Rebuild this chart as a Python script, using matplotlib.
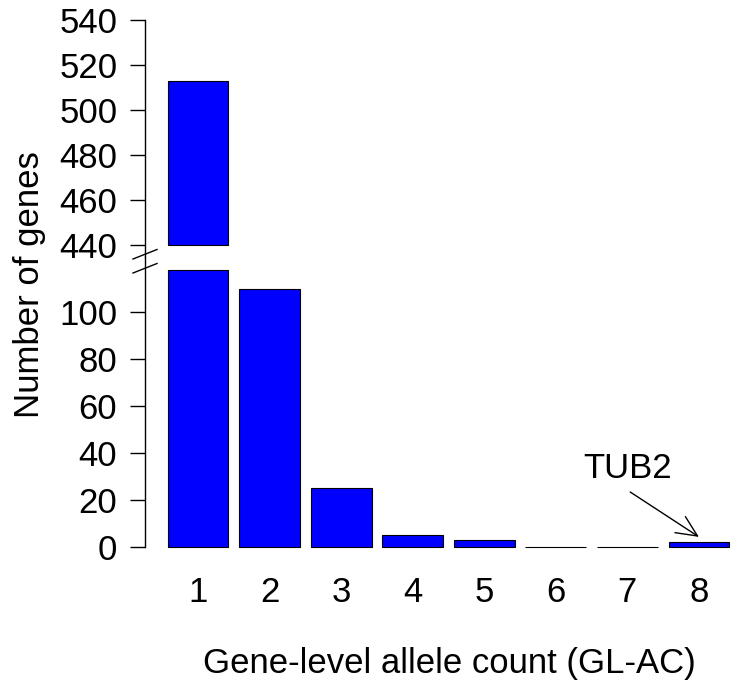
import matplotlib
matplotlib.use("Agg")
import matplotlib.pyplot as plt
from matplotlib.lines import Line2D

plt.rcParams['font.family'] = ['Liberation Sans', 'DejaVu Sans']

# data
allele_counts = [1, 2, 3, 4, 5, 6, 7, 8]
num_genes = [513, 110, 25, 5, 3, 0, 0, 2]
upper_ticks = [440, 460, 480, 500, 520, 540]
lower_ticks = [0, 20, 40, 60, 80, 100]
gap_low = 118      # lower panel cuts bars here
gap_high = 440     # upper panel starts here
note_label = "TUB2"
note_at = 8

W, H = 739, 698
FS = 25
BAR_COLOR = "#0000ff"


def px_axes(fig, left, top, right, bottom):
    """ add an axes given pixel edges (origin top left) """
    return fig.add_axes([left / W, 1 - bottom / H, (right - left) / W, (bottom - top) / H])


fig = plt.figure(figsize=(W / 100, H / 100), dpi=100)
ax_top = px_axes(fig, 145, 20, 739, 257)
ax_low = px_axes(fig, 145, 257, 739, 547)

# upper panel: only bars above the gap
up_x = [x for x, v in zip(allele_counts, num_genes) if v > gap_high]
up_h = [v - gap_high for v in num_genes if v > gap_high]
ax_top.bar(up_x, up_h, bottom=gap_high, width=0.85, color=BAR_COLOR,
           edgecolor="black", linewidth=0.8)
ax_top.set_ylim(540 - 237 / 2.25, 540)

# lower panel: bars capped at the gap
low_h = [min(v, gap_low) for v in num_genes]
ax_low.bar(allele_counts, low_h, width=0.85, color=BAR_COLOR,
           edgecolor="black", linewidth=0.8, clip_on=False)
ax_low.set_ylim(0, 290 / 2.35)

for ax in (ax_top, ax_low):
    ax.set_xlim(0.26, 8.56)
    for side in ("top", "right", "bottom"):
        ax.spines[side].set_visible(False)
    ax.spines["left"].set_linewidth(1.0)
    ax.tick_params(axis="y", length=11, width=1.0, pad=9, labelsize=FS)

ax_top.set_yticks(upper_ticks)
ax_top.set_xticks([])
ax_low.set_yticks(lower_ticks)
ax_low.set_xticks(allele_counts)
ax_low.tick_params(axis="x", length=0, pad=21, labelsize=FS)

# break marks on the y axis
for y0 in (259, 273):
    fig.add_artist(Line2D([133 / W, 157 / W], [1 - y0 / H, 1 - (y0 - 9.5) / H],
                          color="black", linewidth=1.0))

# label and arrow for the single gene at 8 alleles
ax_low.text(7.0, 33.5, note_label, ha="center", va="center", fontsize=FS)
ax_low.annotate("", xy=(note_at, 4.3), xytext=(7.04, 23.4),
                arrowprops=dict(arrowstyle="->,head_length=0.65,head_width=0.3",
                                color="black", lw=1.0, shrinkA=0, shrinkB=0,
                                mutation_scale=23))

fig.text(449 / W, 1 - 664 / H, "Gene-level allele count (GL-AC)",
         ha="center", va="center", fontsize=FS)
fig.text(30 / W, 1 - 285 / H, "Number of genes", ha="center", va="center",
         rotation=90, fontsize=FS)

fig.savefig("out.png", dpi=100)
